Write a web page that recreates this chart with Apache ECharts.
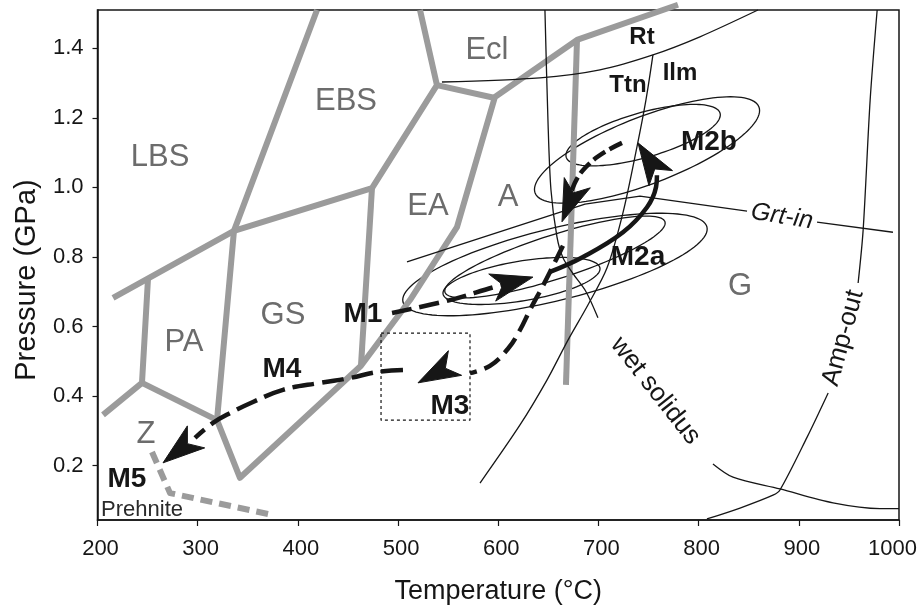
<!DOCTYPE html>
<html>
<head>
<meta charset="utf-8">
<script src="https://cdn.jsdelivr.net/npm/echarts@6/dist/echarts.min.js"></script>
<style>
  html, body { margin: 0; padding: 0; background: #fff; overflow: hidden; width: 917px; height: 606px; }
  #chart { width: 917px; height: 606px; }
</style>
</head>
<body>
<div id="chart"></div>
<script>
// ---------- P–T data: temperature in °C, pressure in GPa ----------

// Metamorphic facies boundaries (grey)
const faciesMain  = [[419.1,1.51],[336.2,0.875],[319.3,0.331],[342.2,0.165],[463.0,0.487],[511.9,0.676],[558.8,0.886],[596.7,1.260],[678.6,1.424],[779.4,1.525]];
const faciesUpper = [[215.5,0.682],[336.2,0.875],[474.0,0.998],[538.8,1.294],[521.9,1.51]];
const eclBase     = [[538.8,1.294],[596.7,1.257]];
const gsEa        = [[474.0,0.998],[463.0,0.487]];
const amphGran    = [[678.6,1.424],[667.6,0.432]];
const paLeft      = [[250.4,0.737],[244.4,0.438],[205.5,0.346]];
const paBase      = [[244.4,0.438],[319.3,0.331]];
const prehnite    = [[254.4,0.239],[272.4,0.121],[375.2,0.058]];

// Reaction curves (thin black)
const rtTtn      = [[543.8,1.303],[641.6,1.315],[701.5,1.338],[754.4,1.381],[801.3,1.433],[859.2,1.51]];
const ttnIlm     = [[754.4,1.381],[747.4,1.251],[738.4,1.116],[724.4,0.926],[708.5,0.768],[689.5,0.662],[669.6,0.561],[648.6,0.446],[621.7,0.317],[581.8,0.150]];
const wetSolidusUpper = [[646.6,1.51],[649.6,1.194],[652.6,0.993],[658.6,0.858],[664.6,0.798],[674.6,0.752],[687.6,0.700],[699.5,0.625]];
const wetSolidusLower = [[814.3,0.205],[834.3,0.167],[881.2,0.133],[934.1,0.093],[981.0,0.0765],[1000,0.0765]];
const ampOutUpper = [[978.2,1.51],[971.2,1.251],[964.2,0.877],[959.2,0.725]];
const ampOutLower = [[929.3,0.409],[908.3,0.282],[881.2,0.130],[874.2,0.115],[841.3,0.078],[808.3,0.0466]];
const grtInLeft   = [[508.9,0.786],[686.6,0.952],[741.5,0.975],[848.3,0.932]];
const grtInRight  = [[918.2,0.900],[994.0,0.871]];

// M3 estimate window
const m3Box = [[483.0,0.581],[571.8,0.581],[571.8,0.331],[483.0,0.331],[483.0,0.581]];

// Error ellipses: centre T, centre P, major-axis end T, major-axis end P, minor/major ratio
const ellipses = [
  [748.5,1.1075, 860.2,1.2312, 0.28],
  [744.6,1.1502, 821.4,1.2134, 0.28],
  [656.6,0.7783, 808.3,0.8861, 0.23],
  [656.6,0.7999, 766.4,0.9011, 0.19],
  [623.2,0.7309, 701.5,0.7683, 0.25]
];

// P–T path segments
const pathM1  = [[494.0,0.639],[551.8,0.676],[596.7,0.714],[619.7,0.731]];
const pathM2  = [[651.6,0.757],[684.6,0.800],[724.5,0.871],[748.5,0.943],[757.5,1.001],[758.4,1.035]];
const pathM2b = [[723.5,1.128],[706.5,1.102],[691.5,1.070],[679.6,1.030],[671.6,0.978]];
const pathM3  = [[664.6,0.832],[654.6,0.774],[644.6,0.717],[631.7,0.648],[621.7,0.590],[609.7,0.536],[591.7,0.487],[571.8,0.466]];
const pathM4  = [[504.9,0.475],[478.9,0.469],[452.0,0.452],[422.1,0.438],[385.1,0.418],[355.2,0.383],[332.2,0.351],[315.3,0.323],[297.3,0.280]];

// Arrowheads: tip T, tip P, tail T, tail P
const arrows = [
  [634.6,0.742, 596.7,0.714],
  [739.5,1.128, 763.4,1.021],
  [663.6,0.901, 677.6,1.004],
  [519.9,0.438, 567.8,0.512],
  [265.4,0.208, 307.3,0.303]
];

// Text labels
const faciesLabels  = [['LBS',262.4,1.087],['EBS',448.0,1.248],['Ecl',588.7,1.395],['EA',529.9,0.944],['A',609.7,0.972],['GS',385.1,0.633],['PA',286.3,0.553],['Z',248.4,0.291],['G',841.3,0.714]];
const stageLabels   = [['M1',465.0,0.636],['M2a',739.5,0.800],['M2b',810.3,1.130],['M3',551.8,0.372],['M4',384.1,0.478],['M5',229.4,0.160]];
const mineralLabels = [['Rt',743.5,1.430],['Ttn',729.5,1.294],['Ilm',781.4,1.329]];
const prehniteLabel = [['Prehnite',244.5,0.0725]];
// Curve labels sit in the gap of their curve, reading from the first point to the second
const curveLabels = [
  ['wet solidus', wetSolidusUpper[wetSolidusUpper.length-1], wetSolidusLower[0], 'normal'],
  ['Amp-out', ampOutLower[0], ampOutUpper[ampOutUpper.length-1], 'normal'],
  ['Grt-in', grtInLeft[grtInLeft.length-1], grtInRight[0], 'italic']
];

const yTicks = [0.2, 0.4, 0.6, 0.8, 1.0, 1.2, 1.4];

// ---------- drawing ----------
const FONT = '"Liberation Sans", Arial, Helvetica, sans-serif';
const GREY = '#9b9b9b';
const INK = '#161616';

function line(data, color, width, type, smooth) {
  return {
    type: 'line', data: data, symbol: 'none', smooth: smooth || false, clip: false,
    silent: true, animation: false,
    lineStyle: { color: color, width: width, type: type || 'solid', cap: 'butt', join: 'round' }
  };
}

function renderEllipse(params, api) {
  const c = api.coord([api.value(0), api.value(1)]);
  const t = api.coord([api.value(2), api.value(3)]);
  const dx = t[0] - c[0], dy = t[1] - c[1];
  const a = Math.hypot(dx, dy), b = a * api.value(4);
  const ux = dx / a, uy = dy / a;
  const pts = [];
  for (let i = 0; i < 120; i++) {
    const th = i / 120 * Math.PI * 2;
    const p = a * Math.cos(th), q = b * Math.sin(th);
    pts.push([c[0] + p * ux - q * uy, c[1] + p * uy + q * ux]);
  }
  return { type: 'polygon', shape: { points: pts }, style: { fill: 'none', stroke: INK, lineWidth: 1.3 } };
}

function renderArrow(params, api) {
  const tip = api.coord([api.value(0), api.value(1)]);
  const tail = api.coord([api.value(2), api.value(3)]);
  let dx = tip[0] - tail[0], dy = tip[1] - tail[1];
  const d = Math.hypot(dx, dy); dx /= d; dy /= d;
  const L = 42, W = 14, N = 31;
  const nx = -dy, ny = dx;
  const bx = tip[0] - dx * L, by = tip[1] - dy * L;
  return {
    type: 'polygon',
    shape: { points: [tip, [bx + nx * W, by + ny * W], [tip[0] - dx * N, tip[1] - dy * N], [bx - nx * W, by - ny * W]] },
    style: { fill: INK, stroke: INK, lineWidth: 1 }
  };
}

function textSeries(list, font, color) {
  return {
    type: 'custom', silent: true, animation: false, clip: false, z: 10,
    data: list.map(function (r) { return [r[1], r[2]]; }),
    renderItem: function (params, api) {
      const p = api.coord([api.value(0), api.value(1)]);
      return {
        type: 'text', x: p[0], y: p[1],
        style: { text: list[params.dataIndex][0], font: font, fill: color,
                 align: 'center', verticalAlign: 'middle', textAlign: 'center', textVerticalAlign: 'middle' }
      };
    }
  };
}

const curveLabelSeries = {
  type: 'custom', silent: true, animation: false, clip: false, z: 10,
  data: curveLabels.map(function (r) { return [r[1][0], r[1][1], r[2][0], r[2][1]]; }),
  renderItem: function (params, api) {
    const a = api.coord([api.value(0), api.value(1)]);
    const b = api.coord([api.value(2), api.value(3)]);
    const lab = curveLabels[params.dataIndex];
    const size = lab[0] === 'Grt-in' ? 25 : 26;
    return {
      type: 'text', x: (a[0] + b[0]) / 2, y: (a[1] + b[1]) / 2,
      rotation: -Math.atan2(b[1] - a[1], b[0] - a[0]),
      style: { text: lab[0], font: lab[3] + ' ' + size + 'px ' + FONT, fill: INK,
               align: 'center', verticalAlign: 'middle', textAlign: 'center', textVerticalAlign: 'middle' }
    };
  }
};

const tickText = { fontFamily: FONT, fontSize: 22, color: INK };

const chart = echarts.init(document.getElementById('chart'), null, { width: 917, height: 606 });
chart.setOption({
  animation: false,
  backgroundColor: '#fff',
  grid: { left: 97.5, right: 18, top: 10, bottom: 86, show: true, borderColor: INK, borderWidth: 1.5,
          containLabel: false, outerBoundsMode: 'none' },
  xAxis: {
    type: 'value', min: 200, max: 1000, interval: 100,
    name: 'Temperature (°C)', nameLocation: 'middle', nameGap: 58,
    nameTextStyle: { fontFamily: FONT, fontSize: 27, color: INK },
    axisLine: { lineStyle: { color: INK, width: 1.5 } },
    axisTick: { show: true, inside: false, length: 6, lineStyle: { color: INK, width: 1.2 } },
    axisLabel: { fontFamily: FONT, fontSize: 22, color: INK, margin: 18, hideOverlap: false,
                 formatter: function (v) { return v === 1000 ? '{e|' + v + '}' : '{n|' + v + '}'; },
                 rich: {
                   n: Object.assign({ padding: [0, 0, 0, 6] }, tickText),
                   e: Object.assign({ padding: [0, 13, 0, 0] }, tickText)
                 } },
    splitLine: { show: false }
  },
  yAxis: {
    type: 'value', min: 0.0437, max: 1.51,
    name: 'Pressure (GPa)', nameLocation: 'middle', nameGap: 56,
    nameTextStyle: { fontFamily: FONT, fontSize: 29, color: INK, padding: [0, 30, 0, 0] },
    axisLine: { show: true, lineStyle: { color: INK, width: 1.5 } },
    axisTick: { show: true, inside: false, length: 5, customValues: yTicks, lineStyle: { color: INK, width: 1.2 } },
    axisLabel: { fontFamily: FONT, fontSize: 22, color: INK, margin: 14, customValues: yTicks,
                 formatter: function (v) { return v.toFixed(1); } },
    splitLine: { show: false }
  },
  series: [
    line(faciesMain, GREY, 6),
    line(faciesUpper, GREY, 6),
    line(eclBase, GREY, 6),
    line(gsEa, GREY, 6),
    line(amphGran, GREY, 6),
    line(paLeft, GREY, 6),
    line(paBase, GREY, 6),
    line(prehnite, GREY, 6, [12, 7]),

    line(rtTtn, INK, 1.3, 'solid', 0.3),
    line(ttnIlm, INK, 1.3, 'solid', 0.3),
    line(wetSolidusUpper, INK, 1.3, 'solid', 0.3),
    line(wetSolidusLower, INK, 1.3, 'solid', 0.3),
    line(ampOutUpper, INK, 1.3, 'solid', 0.3),
    line(ampOutLower, INK, 1.3, 'solid', 0.3),
    line(grtInLeft, INK, 1.3),
    line(grtInRight, INK, 1.3),
    line(m3Box, INK, 1.2, [3, 3]),

    { type: 'custom', silent: true, animation: false, clip: false, data: ellipses, renderItem: renderEllipse },

    line(pathM1, INK, 4.5, [20, 8], 0.4),
    line(pathM2, INK, 4.5, 'solid', 0.4),
    line(pathM2b, INK, 4.5, [14, 5], 0.4),
    line(pathM3, INK, 4.5, [18, 8], 0.4),
    line(pathM4, INK, 4.5, [22, 8], 0.4),

    { type: 'custom', silent: true, animation: false, clip: false, z: 5, data: arrows, renderItem: renderArrow },

    textSeries(faciesLabels, '31px ' + FONT, '#6c6c6c'),
    textSeries(stageLabels, 'bold 28px ' + FONT, INK),
    textSeries(mineralLabels, 'bold 24px ' + FONT, INK),
    textSeries(prehniteLabel, '22px ' + FONT, '#2a2a2a'),
    curveLabelSeries
  ]
});
</script>
</body>
</html>
